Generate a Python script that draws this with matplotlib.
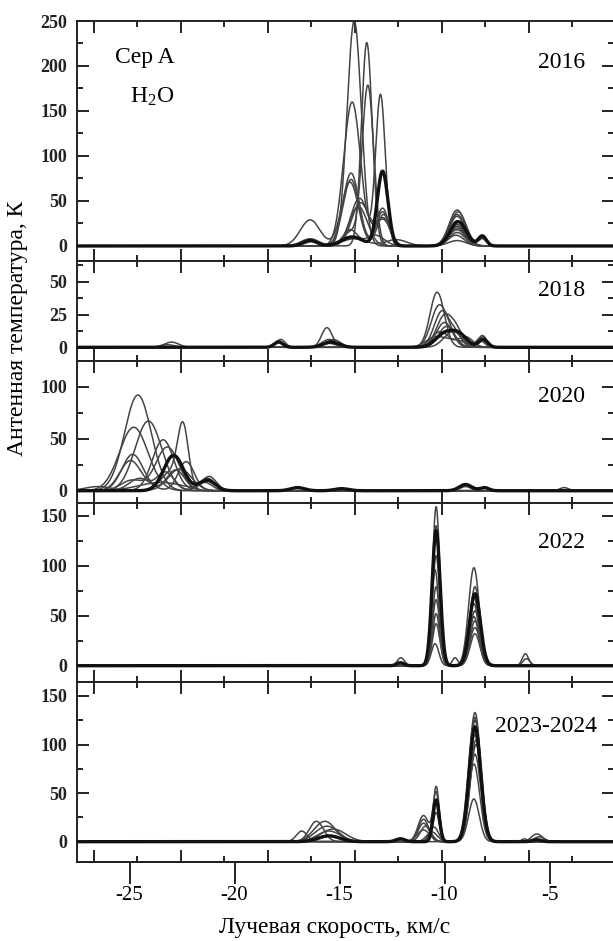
# Cep A H2O maser spectra, 5 epochs stacked
import numpy as np
import matplotlib
matplotlib.use("Agg")
import matplotlib.pyplot as plt

plt.rcParams["font.family"] = ["Liberation Serif", "DejaVu Serif"]
plt.rcParams["axes.unicode_minus"] = False
plt.rcParams["mathtext.fontset"] = "custom"
plt.rcParams["mathtext.rm"] = "Liberation Serif"
plt.rcParams["mathtext.it"] = "Liberation Serif:italic"

# line components: spectrum id, velocity (km/s), peak T (K), FWHM (km/s)
s2016 = [0, 0, 0, 1, 1, 1, 2, 2, 2, 3, 3, 3, 3, 4, 4, 4, 4, 4, 5, 5, 5, 6, 6, 6,
         7, 7, 7, 7, 8, 8, 8, 8, 9, 9, 9, 10, 10, 10, 11, 11, 11, 12, 12, 12]
v2016 = [-14.30, -9.35, -8.2, -13.70, -9.40, -8.2, -14.40, -13.05, -9.4, -13.65, -14.5, -9.4, -8.2,
         -14.4, -12.95, -9.35, -8.2, -16.4, -14.45, -12.95, -9.4, -14.45, -12.95, -9.4,
         -14.5, -12.9, -16.4, -9.4, -14.05, -12.9, -16.4, -9.4, -14.0, -12.9, -9.4,
         -14.1, -16.3, -9.4, -14.5, -13.3, -9.45, -14.3, -12.3, -9.4]
t2016 = [250, 38, 9, 226, 33, 10, 160, 168, 28, 178, 15, 24, 8,
         10, 83, 27, 11, 6, 81, 42, 40, 74, 38, 35,
         71, 35, 29, 22, 53, 30, 8, 20, 48, 28, 18,
         44, 5, 15, 18, 12, 12, 8, 7, 6]
w2016 = [0.8, 0.9, 0.45, 0.6, 0.9, 0.45, 0.95, 0.55, 0.9, 0.65, 0.8, 0.9, 0.45,
         1.2, 0.6, 0.9, 0.45, 0.8, 0.9, 0.7, 0.9, 0.9, 0.7, 0.9,
         0.95, 0.7, 1.1, 0.9, 1.0, 0.7, 1.0, 0.9, 1.0, 0.8, 0.9,
         1.0, 0.8, 0.9, 0.8, 1.0, 0.9, 1.4, 1.2, 1.0]

s2018 = [0, 0, 0, 1, 1, 1, 2, 2, 2, 3, 3, 3, 4, 4, 4, 4, 4, 5, 5, 5, 6, 6, 7, 7, 7, 8, 8, 8, 9, 9, 9]
v2018 = [-10.35, -8.2, -15.6, -10.25, -9.5, -17.9, -10.1, -15.4, -8.2, -10.0, -9.4, -15.3,
         -10.0, -9.3, -8.15, -15.4, -17.9, -9.9, -8.3, -15.5, -10.2, -9.0,
         -10.4, -9.4, -23.0, -9.6, -8.3, -17.8, -10.0, -15.5, -23.2]
t2018 = [42, 8, 15, 32, 10, 5, 28, 5, 9, 24, 10, 6,
         10, 9, 6, 4, 4, 16, 7, 3, 12, 8,
         8, 5, 4, 12, 5, 6, 19, 6, 2]
w2018 = [0.8, 0.5, 0.6, 0.9, 0.7, 0.5, 0.9, 0.8, 0.5, 0.9, 0.7, 0.8,
         1.0, 0.9, 0.5, 0.9, 0.5, 0.9, 0.5, 0.8, 1.0, 0.8,
         1.1, 1.0, 0.8, 1.0, 0.5, 0.5, 0.9, 0.8, 0.8]

s2020 = [0, 0, 1, 1, 2, 2, 3, 3, 4, 4, 5, 5, 6, 6, 6, 6, 6, 6, 7, 7, 8, 8, 9, 9, 10, 10, 10, 11, 11]
v2020 = [-24.6, -21.4, -24.8, -9.0, -24.1, -21.3, -23.4, -21.3, -23.2, -24.9, -22.45, -23.0,
         -22.9, -21.3, -9.0, -8.1, -17.0, -14.9, -24.85, -22.8, -24.95, -23.3,
         -22.6, -26.5, -23.5, -21.2, -4.3, -22.3, -24.5]
t2020 = [92, 8, 61, 4, 67, 12, 49, 10, 42, 10, 56, 18,
         34, 10, 6, 3, 3, 2, 35, 20, 29, 18,
         21, 4, 8, 13, 3, 28, 12]
w2020 = [1.5, 0.8, 1.6, 0.6, 1.5, 0.9, 1.2, 0.9, 1.3, 1.2, 0.6, 1.2,
         1.1, 0.9, 0.7, 0.5, 0.8, 0.8, 1.2, 1.0, 1.2, 1.0,
         1.3, 1.5, 2.5, 0.8, 0.5, 0.9, 1.2]

s2022 = [0, 0, 0, 1, 1, 2, 2, 2, 3, 3, 3, 4, 4, 4, 5, 5, 5, 6, 6, 7, 7, 8, 8, 9, 9]
v2022 = [-10.4, -8.6, -6.15, -10.4, -8.55, -10.4, -8.55, -12.1, -10.45, -8.6, -12.08,
         -10.4, -8.6, -9.5, -10.4, -8.55, -6.1, -10.4, -8.55, -10.45, -8.6,
         -10.4, -8.55, -10.4, -8.55]
t2022 = [159, 98, 12, 140, 79, 135, 72, 3, 96, 62, 8,
         79, 49, 8, 66, 32, 7, 42, 55, 22, 68,
         110, 45, 52, 38]
w2022 = [0.42, 0.6, 0.35, 0.42, 0.55, 0.45, 0.6, 0.4, 0.42, 0.55, 0.4,
         0.42, 0.55, 0.3, 0.42, 0.55, 0.4, 0.42, 0.55, 0.42, 0.6,
         0.42, 0.55, 0.42, 0.6]

s2023 = [0, 0, 0, 1, 1, 1, 2, 2, 2, 2, 2, 3, 3, 3, 4, 4, 4, 5, 5, 5, 5,
         6, 6, 6, 7, 7, 7, 7, 8, 8, 8, 9, 9, 10, 10]
v2023 = [-8.55, -10.4, -15.7, -8.55, -10.4, -11.0, -8.55, -10.4, -15.5, -12.1, -5.6,
         -8.55, -11.0, -16.1, -8.5, -11.0, -15.6, -8.55, -10.9, -15.5, -5.6,
         -8.6, -10.4, -16.8, -8.6, -11.0, -15.4, -5.5, -8.55, -10.5, -6.2,
         -8.6, -15.3, -8.5, -10.6]
t2023 = [133, 57, 21, 125, 50, 27, 118, 43, 6, 3, 2,
         110, 23, 21, 100, 19, 16, 90, 16, 11, 8,
         80, 30, 11, 44, 12, 6, 5, 128, 15, 3,
         120, 13, 105, 10]
w2023 = [0.65, 0.35, 1.2, 0.65, 0.35, 0.6, 0.65, 0.35, 1.2, 0.5, 0.5,
         0.65, 0.6, 0.8, 0.65, 0.6, 1.3, 0.65, 0.6, 1.3, 0.6,
         0.65, 0.35, 0.6, 0.6, 0.7, 1.2, 0.6, 0.65, 0.5, 0.3,
         0.65, 1.4, 0.65, 0.6]

years = ["2016", "2018", "2020", "2022", "2023-2024"]
thick_id = [4, 4, 6, 2, 2]
panels = [(s2016, v2016, t2016, w2016), (s2018, v2018, t2018, w2018),
          (s2020, v2020, t2020, w2020), (s2022, v2022, t2022, w2022),
          (s2023, v2023, t2023, w2023)]
ylims = [(-16.7, 250), (-10.2, 65.8), (-11.5, 125), (-16, 163), (-20.6, 164.7)]
ymajor = [50, 25, 50, 50, 50]
ytop_lab = [250, 50, 100, 150, 150]

W, H = 613, 941
fig = plt.figure(figsize=(W / 100, H / 100), dpi=100)

tops = [21, 261, 360.7, 502.7, 681.7]
bots = [261, 360.7, 502.7, 681.7, 861.7]
left_px, right_px = 77, 614
lab_y = [63, 290, 397, 543, 727]
lab_x = [585, 585, 585, 585, 597]

vel = np.linspace(-27.5, -1.9, 3000)
long_t = [-26.7, -22.56, -18.42, -14.28, -10.14, -6.0]
short_t = [-24.63, -20.49, -16.35, -12.21, -8.07, -3.93]

axes = []
for i in range(5):
    ax = fig.add_axes([left_px / W, 1 - bots[i] / H, (right_px - left_px) / W, (bots[i] - tops[i]) / H])
    sid, vv, tt, ww = panels[i]
    sid = np.array(sid)
    vv, tt, ww = np.array(vv), np.array(tt), np.array(ww)
    for k in np.unique(sid):
        m = sid == k
        spec = np.zeros_like(vel)
        for c, a, f in zip(vv[m], tt[m], ww[m]):
            sig = f / 2.3548
            spec += a * np.exp(-0.5 * ((vel - c) / sig) ** 2)
        if k == thick_id[i]:
            ax.plot(vel, spec, color="#111111", lw=2.4, zorder=3)
        else:
            ax.plot(vel, spec, color="#444444", lw=1.1, zorder=2)
    ax.set_xlim(-27.5, -1.93)
    ax.set_ylim(*ylims[i])
    ax.set_xticks(long_t)
    ax.set_xticks(short_t, minor=True)
    ax.set_yticks(np.arange(0, ytop_lab[i] + 1, ymajor[i]))
    ax.set_yticks(np.arange(ymajor[i] / 2, ylims[i][1], ymajor[i]), minor=True)
    ax.tick_params(which="both", direction="in", top=True, bottom=True, left=True, right=True,
                   labelbottom=False, width=1.4, color="#222222")
    ax.tick_params(which="major", length=8.6, pad=7)
    ax.tick_params(which="minor", length=4.3)
    for lab in ax.get_yticklabels():
        lab.set_fontsize(13)
        lab.set_fontweight("bold")
        lab.set_color("#222222")
    for sp in ax.spines.values():
        sp.set_linewidth(1.4)
        sp.set_color("#222222")
    fig.text(lab_x[i] / W, 1 - lab_y[i] / H, years[i], ha="right", va="center", fontsize=17)
    axes.append(ax)

fig.text(145 / W, 1 - 58 / H, "Cep A", ha="center", va="center", fontsize=17)
fig.text(152 / W, 1 - 97 / H, r"H$_\mathrm{2}$O", ha="center", va="center", fontsize=17)

sec = axes[-1].secondary_xaxis("bottom")
sec.set_xticks([-25, -20, -15, -10, -5])
sec.tick_params(direction="out", length=15.8, width=1.4, labelsize=15, pad=2, color="#222222")
sec.spines["bottom"].set_linewidth(1.4)

fig.text(335 / W, 1 - 928 / H, "Лучевая скорость, км/с", ha="center", va="center", fontsize=17)
fig.text(18 / W, 1 - 328 / H, "Антенная температура, К", ha="center", va="center",
         rotation=90, fontsize=17)

fig.savefig("out.png", dpi=100)
